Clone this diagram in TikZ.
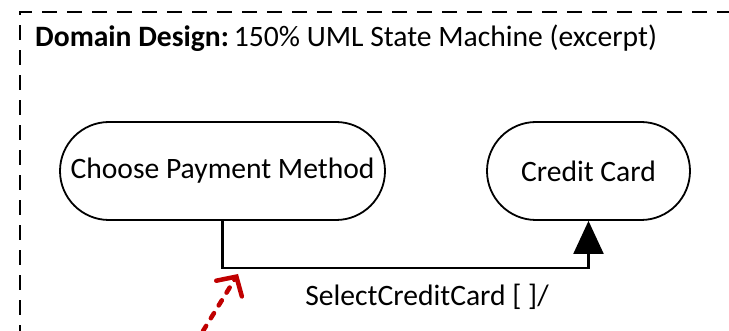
\documentclass[tikz,border=0pt]{standalone}
\usepackage{fontspec}
\setmainfont{Carlito}
\usetikzlibrary{arrows.meta}
\definecolor{tracered}{HTML}{C00000}
\tikzset{
  statebox/.style={draw, line width=1.8pt, rounded corners=49pt,
    minimum height=98pt, inner sep=0pt, font=\fontsize{29.6}{34}\selectfont},
  transition/.style={line width=2.2pt, -{Triangle[length=33pt,width=30pt]}},
  framebox/.style={line width=1.8pt, dash pattern=on 15pt off 10pt},
  trace/.style={tracered, line width=4.5pt, line cap=round,
    dash pattern=on 6pt off 9pt,
    -{Straight Barb[length=14pt,width=30pt,line cap=round]}},
  lbl/.style={font=\fontsize{29.6}{34}\selectfont, inner sep=0pt}
}
\begin{document}
\begin{tikzpicture}[x=1pt,y=-1pt]
  \useasboundingbox (0,0) rectangle (729,331);
  % dashed package frame
  \draw[framebox] (20,340) -- (20,12) -- (740,12);
  \node[lbl, anchor=west] (title) at (35,38)
    {\textbf{Domain Design:}\,150\% UML State Machine (excerpt)};
  % states
  \node[statebox, minimum width=325pt] (choose) at (222.5,171) {Choose Payment Method};
  \node[statebox, minimum width=203pt] (credit) at (588.5,171) {Credit Card};
  % transition
  \draw[transition] (choose.south) -- ++(0,47) coordinate (bend) -| (credit.south);
  \node[lbl] (event) at (427,297) {SelectCreditCard [ ]/};
  % highlighted trace
  \coordinate (tracestart) at (203,331);
  \coordinate (traceend) at (238,274);
  \draw[trace] (tracestart) -- (traceend);
\end{tikzpicture}
\end{document}
